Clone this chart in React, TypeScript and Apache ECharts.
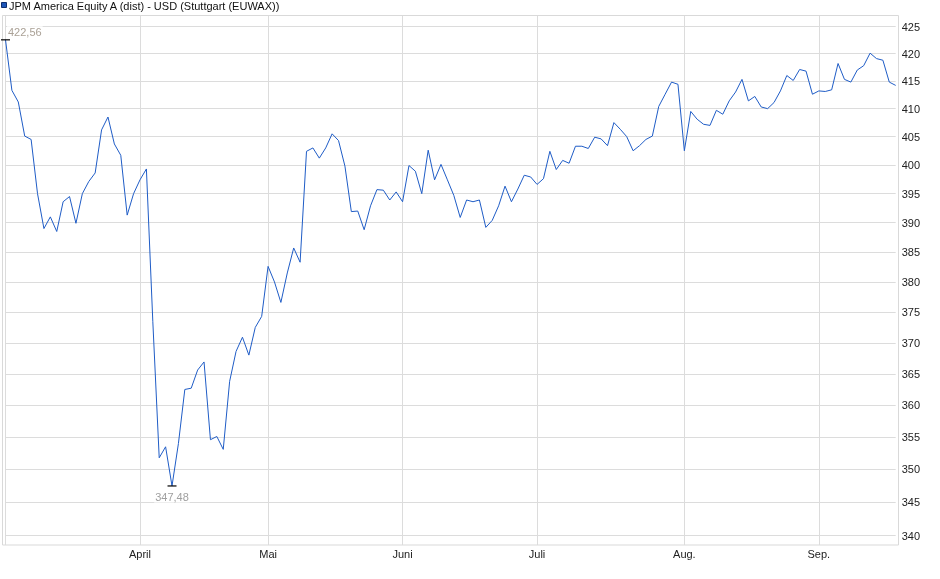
import { useEffect, useRef } from 'react';
import * as echarts from 'echarts';

const TITLE = 'JPM America Equity A (dist) - USD (Stuttgart (EUWAX))';

// Handelstage 2025 (Stuttgart), je Monat
const marDays = [3, 4, 5, 6, 7, 10, 11, 12, 13, 14, 17, 18, 19, 20, 21, 24, 25, 26, 27, 28, 31];
const aprDays = [1, 2, 3, 4, 7, 8, 9, 10, 11, 14, 15, 16, 17, 22, 23, 24, 25, 28, 29, 30];
const mayDays = [2, 5, 6, 7, 8, 9, 12, 13, 14, 15, 16, 19, 20, 21, 22, 23, 26, 27, 28, 29, 30];
const junDays = [2, 3, 4, 5, 6, 9, 10, 11, 12, 13, 16, 17, 18, 19, 20, 23, 24, 25, 26, 27, 30];
const julDays = [1, 2, 3, 4, 7, 8, 9, 10, 11, 14, 15, 16, 17, 18, 21, 22, 23, 24, 25, 28, 29, 30, 31];
const augDays = [1, 4, 5, 6, 7, 8, 11, 12, 13, 14, 15, 18, 19, 20, 21, 22, 25, 26, 27, 28, 29];
const sepDays = [1, 2, 3, 4, 5, 8, 9, 10, 11, 12, 15, 16, 17];

const monthNames: Record<string, string> = {
  '04': 'April',
  '05': 'Mai',
  '06': 'Juni',
  '07': 'Juli',
  '08': 'Aug.',
  '09': 'Sep.',
};

const prices = [
  // März
  422.56, 413.3, 411.2, 405.1, 404.5, 395.0, 389.0, 391.0, 388.5, 393.6, 394.5, 389.9, 395.0, 397.1,
  398.6, 406.2, 408.5, 403.7, 401.7, 391.3, 395.0,
  // April
  397.4, 399.3, 373.5, 351.8, 353.5, 347.48, 354.0, 362.5, 362.7, 365.6, 366.9, 354.6, 355.1, 353.1,
  363.8, 368.6, 370.9, 368.0, 372.5, 374.3,
  // Mai
  382.6, 380.0, 376.6, 381.5, 385.7, 383.3, 402.4, 403.0, 401.2, 403.0, 405.5, 404.3, 399.8, 391.9,
  392.0, 388.8, 392.9, 395.7, 395.6, 393.9, 395.3,
  // Juni
  393.6, 399.9, 398.9, 395.0, 402.6, 397.4, 400.1, 397.4, 394.7, 390.9, 393.9, 393.6, 393.9, 389.2,
  390.4, 392.9, 396.3, 393.6, 395.8, 398.2, 397.9,
  // Juli
  396.6, 397.6, 402.4, 399.2, 400.8, 400.3, 403.3, 403.3, 402.9, 404.9, 404.6, 403.4, 407.5, 406.3,
  405.0, 402.5, 403.4, 404.5, 405.1, 410.4, 412.6, 414.8, 414.4,
  // August
  402.5, 409.5, 408.1, 407.2, 407.0, 409.7, 409.0, 411.4, 413.0, 415.3, 411.4, 412.2, 410.3, 410.0,
  411.1, 413.2, 416.0, 415.1, 417.1, 416.8, 412.6,
  // September
  413.2, 413.1, 413.4, 418.2, 415.3, 414.8, 417.0, 417.8, 420.1, 419.1, 418.8, 414.8, 414.2,
];

const yTicks = [340, 345, 350, 355, 360, 365, 370, 375, 380, 385, 390, 395, 400, 405, 410, 415, 420, 425];

const months: [string, number[]][] = [
  ['03', marDays],
  ['04', aprDays],
  ['05', mayDays],
  ['06', junDays],
  ['07', julDays],
  ['08', augDays],
  ['09', sepDays],
];

const dates = months.flatMap(([m, days]) =>
  days.map((d) => `2025-${m}-${String(d).padStart(2, '0')}`)
);

const monthStarts = new Set<number>();
dates.forEach((d, i) => {
  if (i > 0 && d.slice(5, 7) !== dates[i - 1].slice(5, 7)) monthStarts.add(i);
});

const fmt = (v: number) => v.toFixed(2).replace('.', ',');

export default function App() {
  const chartRef = useRef<HTMLDivElement>(null);

  useEffect(() => {
    if (!chartRef.current) return;
    const chart = echarts.init(chartRef.current, undefined, { renderer: 'svg' });

    chart.setOption({
      animation: false,
      textStyle: { fontFamily: 'Liberation Sans, Arial, sans-serif' },
      grid: { left: 5.5, right: 44.3, top: 16, bottom: 34, containLabel: false },
      graphic: [
        {
          type: 'rect',
          silent: true,
          z: 0,
          shape: { x: 2.5, y: 15.5, width: 896, height: 529.5 },
          style: { fill: 'none', stroke: '#d9d9d9', lineWidth: 1 },
        },
        {
          type: 'rect',
          silent: true,
          shape: { x: 1.5, y: 2.5, width: 5, height: 5 },
          style: { fill: '#1d56b8', stroke: '#0e2f6e', lineWidth: 1 },
        },
        {
          type: 'text',
          silent: true,
          x: 9,
          y: 6,
          style: {
            text: TITLE,
            fill: '#111',
            fontSize: 11,
            fontFamily: 'Liberation Sans, Arial, sans-serif',
            verticalAlign: 'middle',
          },
        },
      ],
      xAxis: {
        type: 'category',
        data: dates,
        boundaryGap: false,
        axisLine: { show: false },
        axisTick: { show: false },
        axisLabel: {
          interval: (i: number) => monthStarts.has(i),
          formatter: (v: string) => monthNames[v.slice(5, 7)] ?? '',
          color: '#222',
          fontSize: 11,
          margin: 3,
        },
        splitLine: {
          show: true,
          interval: (i: number) => i === 0 || monthStarts.has(i),
          lineStyle: { color: '#dcdcdc', width: 1 },
        },
      },
      yAxis: {
        type: 'log',
        logBase: 10,
        position: 'right',
        min: 338.6,
        max: 427.0,
        axisLine: { show: false },
        axisTick: { show: false, customValues: yTicks },
        axisLabel: {
          customValues: yTicks,
          formatter: (v: number) => String(Math.round(v)),
          color: '#222',
          fontSize: 11,
          margin: 6,
        },
        splitLine: { show: true, lineStyle: { color: '#dcdcdc', width: 1 } },
      },
      series: [
        {
          type: 'line',
          data: prices,
          showSymbol: false,
          silent: true,
          lineStyle: { color: '#1f5cc6', width: 1 },
          markPoint: {
            symbol: 'rect',
            symbolSize: [9, 1.2],
            itemStyle: { color: '#000' },
            silent: true,
            data: [
              {
                type: 'max',
                label: {
                  show: true,
                  position: [6, -13],
                  align: 'left',
                  verticalAlign: 'top',
                  formatter: (p: any) => fmt(p.value),
                  color: '#aaa196',
                  fontSize: 11,
                  backgroundColor: '#fff',
                  padding: [0, 1],
                },
              },
              {
                type: 'min',
                label: {
                  show: true,
                  position: 'bottom',
                  distance: 5,
                  formatter: (p: any) => fmt(p.value),
                  color: '#a0a0a0',
                  fontSize: 11,
                  backgroundColor: '#fff',
                  padding: [0, 1],
                },
              },
            ],
          },
        },
      ],
    });

    return () => {
      chart.dispose();
    };
  }, []);

  return (
    <div
      ref={chartRef}
      style={{ position: 'fixed', left: 0, top: 0, width: 940, height: 579 }}
    />
  );
}
